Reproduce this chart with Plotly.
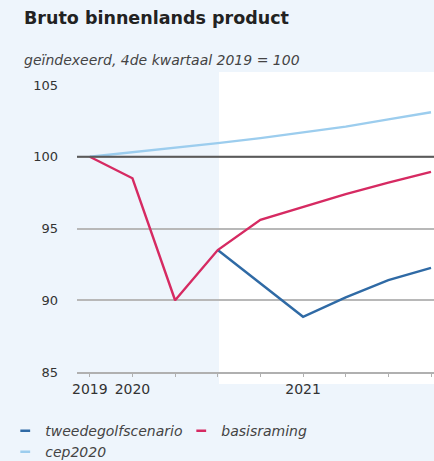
import plotly.graph_objects as go

quarters = ["2019K4", "2020K1", "2020K2", "2020K3", "2020K4",
            "2021K1", "2021K2", "2021K3", "2021K4"]
tick_labels = ["2019", "2020", "", "", "", "2021", "", "", ""]

basisraming = [100.0, 98.5, 90.0, 93.5, 95.6, 96.5, 97.4, 98.2, 98.95]
tweedegolf_x = ["2020K3", "2020K4", "2021K1", "2021K2", "2021K3", "2021K4"]
tweedegolf = [93.5, 91.2, 88.85, 90.2, 91.4, 92.25]
cep2020 = [100.0, 100.3, 100.6, 100.95, 101.3, 101.7, 102.1, 102.6, 103.1]

RED = "#d62a62"
BLUE = "#2f6aa5"
LIGHT = "#9ccdee"
BG = "#eef5fc"
FONT = "DejaVu Sans"

idx = {q: i for i, q in enumerate(quarters)}
xs = list(range(len(quarters)))

fig = go.Figure()
fig.add_trace(go.Scatter(x=xs, y=cep2020, mode="lines",
                         line=dict(color=LIGHT, width=2.4), showlegend=False))
fig.add_trace(go.Scatter(x=[idx[q] for q in tweedegolf_x], y=tweedegolf, mode="lines",
                         line=dict(color=BLUE, width=2.4), showlegend=False))
fig.add_trace(go.Scatter(x=xs, y=basisraming, mode="lines",
                         line=dict(color=RED, width=2.4), showlegend=False))

# legend entries (short dash symbols)
for name, col in [("tweedegolfscenario", BLUE), ("basisraming", RED), ("cep2020", LIGHT)]:
    fig.add_trace(go.Scatter(x=[None], y=[None], mode="markers", name=name,
                             marker=dict(symbol="line-ew-open", size=7, color=col,
                                         line=dict(color=col, width=2.5))))

fig.update_layout(
    width=434, height=461,
    margin=dict(l=77, r=0, t=85, b=89, autoexpand=False),
    paper_bgcolor=BG,
    plot_bgcolor="rgba(0,0,0,0)",
    font=dict(family=FONT, size=13, color="#333333"),
    showlegend=True,
    legend=dict(orientation="h", x=-0.201, xanchor="left", y=-0.15, yanchor="top",
                entrywidth=131, entrywidthmode="pixels", itemwidth=30,
                font=dict(family=FONT, size=14, color="#444444", style="italic"),
                bgcolor="rgba(0,0,0,0)", tracegroupgap=0),
    xaxis=dict(range=[-0.3, 8.07], tickmode="array", tickvals=xs, ticktext=tick_labels,
               showgrid=False, zeroline=False, showline=True, linecolor="#b0b0b0",
               linewidth=1.5, ticks="outside", ticklen=3, tickcolor="#b0b0b0",
               tickfont=dict(size=14, color="#333333"), fixedrange=True),
    yaxis=dict(range=[85, 105], tickvals=[85, 90, 95, 100, 105],
               showgrid=True, gridcolor="#b8b8b8", gridwidth=1.5, zeroline=False,
               showline=False, ticks="", ticklabelstandoff=18,
               tickfont=dict(size=13, color="#333333"), fixedrange=True),
    shapes=[
        dict(type="rect", xref="paper", yref="paper",
             x0=(219 - 77) / 357, x1=1.1, y0=-12 / 287, y1=1 + 13 / 287,
             fillcolor="white", line=dict(width=0), layer="below"),
        dict(type="line", xref="paper", yref="y", x0=0, x1=1.05, y0=100, y1=100,
             line=dict(color="#5a5a5a", width=2.2), layer="above"),
    ],
    annotations=[
        dict(text="<b>Bruto binnenlands product</b>", xref="paper", yref="paper",
             x=-55 / 357, y=1 + (85 - 18) / 287, xanchor="left", yanchor="middle",
             showarrow=False, font=dict(family=FONT, size=17.5, color="#222222")),
        dict(text="<i>geïndexeerd, 4de kwartaal 2019 = 100</i>", xref="paper", yref="paper",
             x=-55 / 357, y=1 + (85 - 60) / 287, xanchor="left", yanchor="middle",
             showarrow=False, font=dict(family=FONT, size=14, color="#444444")),
    ],
)

fig.write_html("out.html", config={"displayModeBar": False},
               post_script="document.body.style.margin='0';document.body.style.padding='0';")
